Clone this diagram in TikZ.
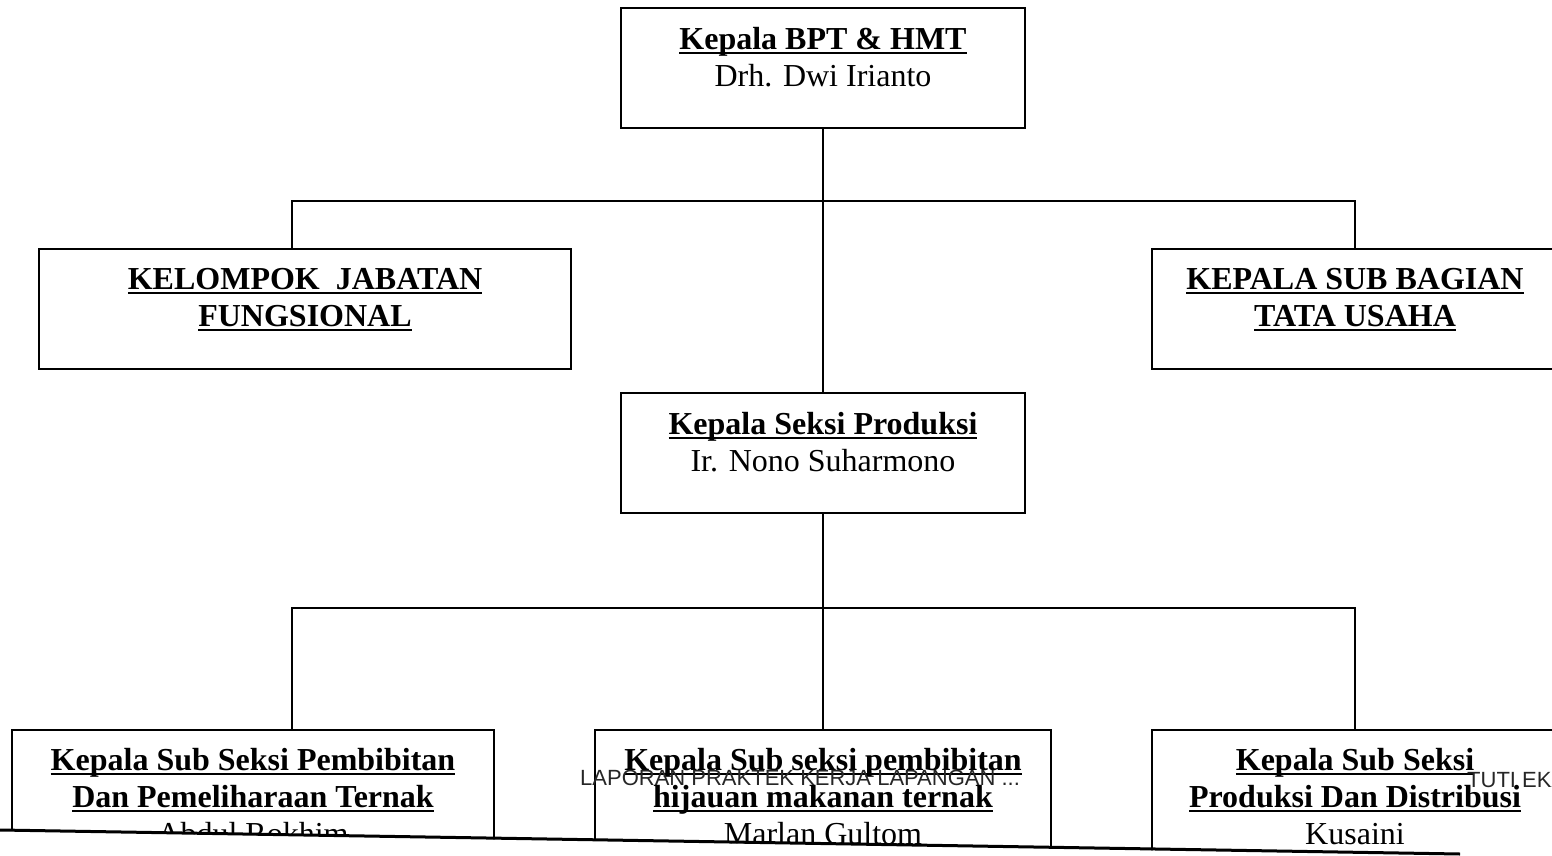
\documentclass[tikz,border=0pt]{standalone}
\usepackage{fontspec}
\setmainfont{Liberation Serif}
\newfontfamily\kakifont{Liberation Sans}
\usetikzlibrary{positioning}

\newcommand\garis[1]{\setbox0=\hbox{#1}\rlap{\rule[-4pt]{\wd0}{2pt}}\box0}

\begin{document}
\begin{tikzpicture}[x=1pt,y=-1pt,
	kotak/.style={draw,line width=1.6pt,inner sep=0pt},
	teks/.style={align=center,inner sep=0pt,font=\fontsize{32}{37}\selectfont},
	kaki/.style={inner sep=0pt,text=black!85,font=\kakifont\fontsize{22}{22}\selectfont},
	garisan/.style={line width=1.6pt}]
	\useasboundingbox (0,0) rectangle (1552,856);
	\clip (0,0) rectangle (1552,856);
	% kotak-kotak
	\node[kotak,minimum width=404,minimum height=120] (kepala) at (823,68) {};
	\node[kotak,minimum width=532,minimum height=120] (fungsional) at (305,309) {};
	\node[kotak,minimum width=406,minimum height=120] (tatausaha) at (1355,309) {};
	\node[kotak,minimum width=404,minimum height=120] (produksi) at (823,453) {};
	\node[kotak,minimum width=482,minimum height=170] (pembibitan) at (253,815) {};
	\node[kotak,minimum width=456,minimum height=170] (hijauan) at (823,815) {};
	\node[kotak,minimum width=406,minimum height=170] (distribusi) at (1355,815) {};
	% garis penghubung
	\coordinate (a1) at (292,201);
	\coordinate (a2) at (1355,201);
	\coordinate (b1) at (292,608);
	\coordinate (b2) at (1355,608);
	\draw[garisan] (kepala) -- (produksi);
	\draw[garisan] (fungsional.north -| a1) -- (a1) -- (a2) -- (tatausaha.north);
	\draw[garisan] (produksi) -- (hijauan);
	\draw[garisan] (pembibitan.north -| b1) -- (b1) -- (b2) -- (distribusi.north);
	% isi
	\node[teks,below=20pt of kepala.north] (kepala-t)
		{\garis{\bfseries Kepala BPT \& HMT}\\Drh. Dwi Irianto};
	\node[teks,below=20pt of fungsional.north] (fungsional-t)
		{\garis{\bfseries KELOMPOK~ JABATAN}\\\garis{\bfseries FUNGSIONAL}};
	\node[teks,below=20pt of tatausaha.north] (tatausaha-t)
		{\garis{\bfseries KEPALA SUB BAGIAN}\\\garis{\bfseries TATA USAHA}};
	\node[teks,below=20pt of produksi.north] (produksi-t)
		{\garis{\bfseries Kepala Seksi Produksi}\\Ir. Nono Suharmono};
	\node[teks,below=19pt of pembibitan.north] (pembibitan-t)
		{\garis{\bfseries Kepala Sub Seksi Pembibitan}\\\garis{\bfseries Dan Pemeliharaan Ternak}\\Abdul Rokhim};
	\node[teks,below=19pt of hijauan.north] (hijauan-t)
		{\garis{\bfseries Kepala Sub seksi pembibitan}\\\garis{\bfseries hijauan makanan ternak}\\Marlan Gultom};
	\node[teks,below=19pt of distribusi.north] (distribusi-t)
		{\garis{\bfseries Kepala Sub Seksi}\\\garis{\bfseries Produksi Dan Distribusi}\\Kusaini};
	% potongan halaman
	\fill[white] (0,831) -- (1552,857) -- (1552,900) -- (0,900) -- cycle;
	\draw[line width=3pt] (0,830) -- (1460,854);
	\node[kaki,anchor=base west] (laporan) at (580,785) {LAPORAN PRAKTEK KERJA LAPANGAN ...};
	\node[kaki,anchor=base west] (penulis) at (1467,787) {TUTI EKA};
\end{tikzpicture}
\end{document}
